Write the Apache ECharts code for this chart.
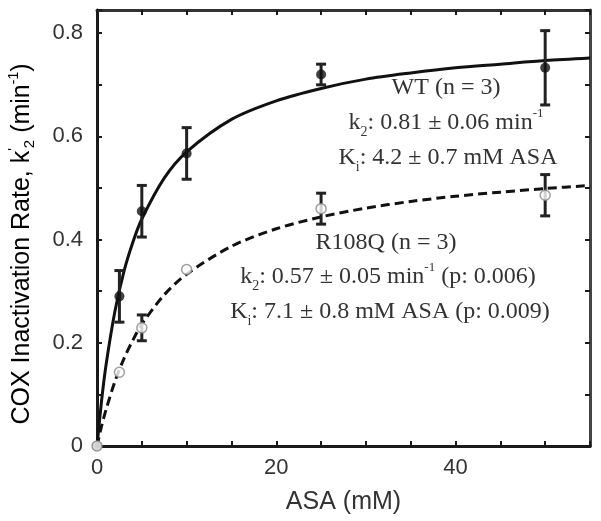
<!DOCTYPE html>
<html>
<head>
<meta charset="utf-8">
<script src="https://cdn.jsdelivr.net/npm/echarts@6/dist/echarts.min.js"></script>
<style>
  html, body { margin: 0; padding: 0; background: #fff; }
  #chart { width: 601px; height: 521px; }
</style>
</head>
<body>
<div id="chart"></div>
<script>
// measured points (ASA in mM)
const asa = [0, 2.5, 5, 10, 25, 50];
const wtRate = [0, 0.29, 0.455, 0.567, 0.72, 0.733];
const wtErr = [0, 0.05, 0.05, 0.05, 0.02, 0.072];
const mutRate = [0, 0.143, 0.229, 0.342, 0.46, 0.486];
const mutErr = [0, 0, 0.025, 0, 0.03, 0.04];

// fitted curves
const fitX = [0, 0.5, 1, 2, 3, 4, 5, 7.5, 10, 15, 20, 25, 30, 35, 40, 45, 50, 55];
const wtFit = [0, 0.086, 0.156, 0.261, 0.338, 0.395, 0.44, 0.519, 0.57, 0.633, 0.669, 0.693, 0.711, 0.723, 0.733, 0.74, 0.747, 0.752];
const mutFit = [0, 0.038, 0.07, 0.125, 0.169, 0.205, 0.236, 0.293, 0.333, 0.387, 0.421, 0.444, 0.461, 0.474, 0.484, 0.492, 0.499, 0.505];

// tick labels
const xLabels = [0, 20, 40];
const yLabels = [0, 0.2, 0.4, 0.6, 0.8];

const pairs = (xs, ys) => xs.map((x, i) => [x, ys[i]]);
const bars = (ys, es) => asa.map((x, i) => [x, ys[i] - es[i], ys[i] + es[i]]).filter((d, i) => es[i] > 0);
const pick = (list, fmt) => v => (list.some(t => Math.abs(t - v) < 1e-6) ? fmt(v) : '');

const AX = '#1a1a1a';
const SERIF = '"Liberation Serif", "DejaVu Serif", serif';
const SANS = '"Liberation Sans", Arial, sans-serif';

function errorBars(params, api) {
  const x = api.value(0);
  const lo = api.coord([x, api.value(1)]);
  const hi = api.coord([x, api.value(2)]);
  const w = 5;
  const st = { stroke: '#222', lineWidth: 3 };
  return {
    type: 'group',
    children: [
      { type: 'line', shape: { x1: lo[0], y1: lo[1], x2: hi[0], y2: hi[1] }, style: st },
      { type: 'line', shape: { x1: lo[0] - w, y1: lo[1], x2: lo[0] + w, y2: lo[1] }, style: st },
      { type: 'line', shape: { x1: hi[0] - w, y1: hi[1], x2: hi[0] + w, y2: hi[1] }, style: st }
    ]
  };
}

const rich = {
  t: { fontFamily: SERIF, fontSize: 24, color: '#333', lineHeight: 32, verticalAlign: 'middle' },
  sub: { fontFamily: SERIF, fontSize: 14, color: '#333', lineHeight: 32, verticalAlign: 'bottom' },
  sup: { fontFamily: SERIF, fontSize: 13, color: '#333', lineHeight: 32, verticalAlign: 'top' }
};

function note(x, y, text) {
  return {
    type: 'text', x: x, y: y, z: 100,
    style: { text: text, rich: rich, align: 'center', verticalAlign: 'middle', fill: '#333' }
  };
}

const tick = { show: true, inside: true, length: 5, lineStyle: { color: AX, width: 2 } };
const noSplit = { show: false };

const chart = echarts.init(document.getElementById('chart'));
chart.setOption({
  animation: false,
  backgroundColor: '#fff',
  grid: { left: 97, right: 11, top: 10, bottom: 75 },
  xAxis: [
    {
      type: 'value', min: 0, max: 55, interval: 5,
      name: 'ASA (mM)', nameLocation: 'middle', nameGap: 44,
      nameTextStyle: { fontFamily: SANS, fontSize: 25, color: '#333' },
      axisLine: { onZero: false, lineStyle: { color: AX, width: 3 } },
      axisTick: tick,
      axisLabel: { fontFamily: SANS, fontSize: 22, color: '#333', margin: 11, formatter: pick(xLabels, v => String(v)) },
      splitLine: noSplit
    },
    {
      type: 'value', min: 0, max: 55, interval: 5, position: 'top',
      axisLine: { onZero: false, lineStyle: { color: '#333', width: 3 } },
      axisTick: tick,
      axisLabel: { show: false },
      splitLine: noSplit
    }
  ],
  yAxis: [
    {
      type: 'value', min: 0, max: 0.845, interval: 0.1,
      axisLine: { onZero: false, lineStyle: { color: AX, width: 3 } },
      axisTick: tick,
      axisLabel: {
        fontFamily: SANS, fontSize: 22, color: '#333', margin: 14,
        formatter: pick(yLabels, v => (v === 0 ? '0' : v.toFixed(1)))
      },
      splitLine: noSplit
    },
    {
      type: 'value', min: 0, max: 0.845, interval: 0.1, position: 'right',
      axisLine: { onZero: false, lineStyle: { color: '#444', width: 3 } },
      axisTick: tick,
      axisLabel: { show: false },
      splitLine: noSplit
    }
  ],
  series: [
    {
      name: 'WT fit', type: 'line', data: pairs(fitX, wtFit), smooth: 0.3,
      showSymbol: false, lineStyle: { color: '#111', width: 3 }, z: 2
    },
    {
      name: 'R108Q fit', type: 'line', data: pairs(fitX, mutFit), smooth: 0.3,
      showSymbol: false, lineStyle: { color: '#111', width: 3, type: [9, 5] }, z: 2
    },
    { name: 'WT err', type: 'custom', renderItem: errorBars, data: bars(wtRate, wtErr), z: 3 },
    { name: 'R108Q err', type: 'custom', renderItem: errorBars, data: bars(mutRate, mutErr), z: 3 },
    {
      name: 'WT', type: 'scatter', data: pairs(asa, wtRate), symbolSize: 10,
      itemStyle: { color: '#111' }, z: 4
    },
    {
      name: 'R108Q', type: 'scatter', data: pairs(asa, mutRate), symbolSize: 10,
      itemStyle: { color: '#fff', borderColor: '#888', borderWidth: 1.5 }, z: 5
    }
  ],
  graphic: [
    note(446, 88, '{t|WT (n = 3)}'),
    note(446, 123, '{t|k}{sub|2}{t|: 0.81 ± 0.06 min}{sup|-1}'),
    note(448, 158, '{t|K}{sub|i}{t|: 4.2 ± 0.7 mM ASA}'),
    note(386, 243, '{t|R108Q (n = 3)}'),
    note(388, 277, '{t|k}{sub|2}{t|: 0.57 ± 0.05 min}{sup|-1}{t| (p: 0.006)}'),
    note(390, 312, '{t|K}{sub|i}{t|: 7.1 ± 0.8 mM ASA (p: 0.009)}'),
    {
      type: 'text', x: 22, y: 244, rotation: Math.PI / 2,
      style: {
        text: '{a|COX Inactivation Rate, k}{s|\'}{b|2}{a| (min}{s|-1}{a|)}',
        align: 'center', verticalAlign: 'middle',
        rich: {
          a: { fontFamily: SANS, fontSize: 25, color: '#333', lineHeight: 30, verticalAlign: 'middle' },
          b: { fontFamily: SANS, fontSize: 15, color: '#333', lineHeight: 30, verticalAlign: 'bottom' },
          s: { fontFamily: SANS, fontSize: 14, color: '#333', lineHeight: 30, verticalAlign: 'top' }
        }
      }
    }
  ]
});
</script>
</body>
</html>
